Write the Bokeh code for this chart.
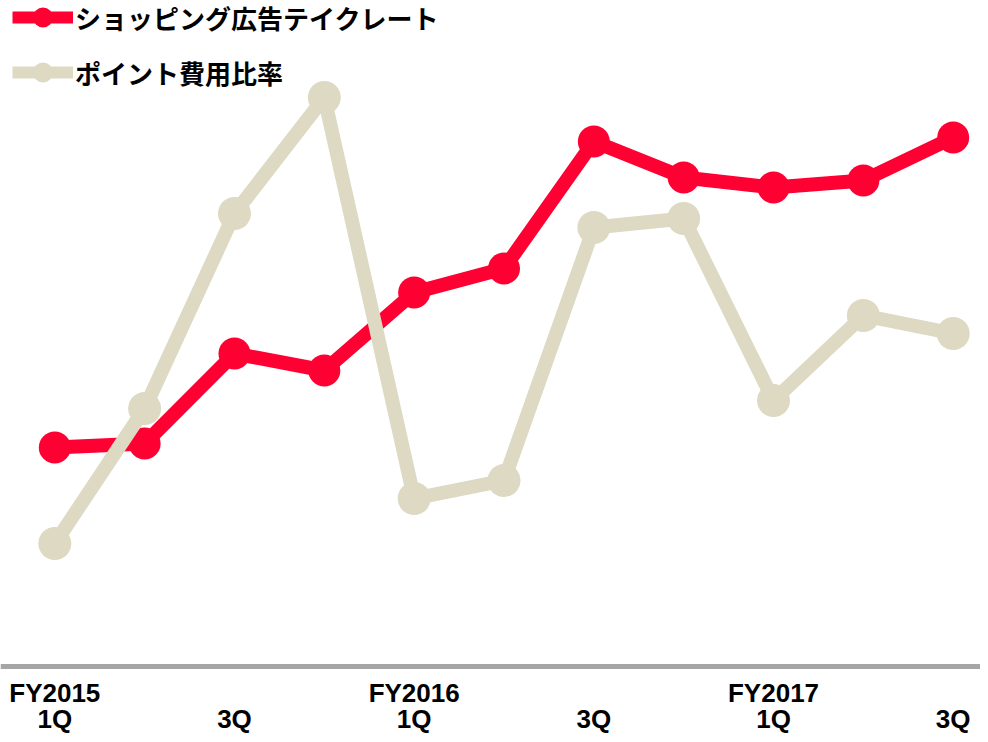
from bokeh.plotting import figure
from bokeh.models import Range1d, Span, Legend, LegendItem, ColumnDataSource
from bokeh.core.properties import value
from bokeh.embed import file_html
from bokeh.resources import INLINE

# ---- data ----
quarters = list(range(11))  # FY2015 1Q ... FY2017 3Q
ad_take_rate = [219, 223, 313, 296, 374, 398, 525, 489, 479, 486, 529]
point_cost_ratio = [123, 258, 453, 569, 168, 186, 439, 448, 266, 351, 333]
series_names = ["ショッピング広告テイクレート", "ポイント費用比率"]

q_tick_idx = [0, 2, 4, 6, 8, 10]
q_tick_labels = ["1Q", "3Q", "1Q", "3Q", "1Q", "3Q"]
fy_tick_idx = [0, 4, 8]
fy_tick_labels = ["FY2015", "FY2016", "FY2017"]

RED = "#FF0033"
BEIGE = "#DDD9C3"
GRAY = "#A6A6A6"

W, H = 980, 734
xs = 89.84
x0 = -54.3 / xs
y0 = -(H - 666)
p = figure(width=W, height=H, output_backend="svg", toolbar_location=None,
           x_range=Range1d(x0, x0 + W / xs), y_range=Range1d(y0, y0 + H),
           min_border=0, outline_line_color=None)
p.axis.visible = False
p.grid.visible = False
p.background_fill_color = "white"
p.border_fill_color = "white"

p.add_layout(Span(location=0, dimension="width", line_color=GRAY, line_width=5))

p.line(quarters, ad_take_rate, line_color=RED, line_width=14)
p.scatter(quarters, ad_take_rate, size=32, fill_color=RED, line_color=None)
p.line(quarters, point_cost_ratio, line_color=BEIGE, line_width=14)
p.scatter(quarters, point_cost_ratio, size=33, fill_color=BEIGE, line_color=None)

fy_src = ColumnDataSource(dict(x=fy_tick_idx, t=fy_tick_labels))
q_src = ColumnDataSource(dict(x=q_tick_idx, t=q_tick_labels))
p.text(x="x", y=-26, text="t", source=fy_src, text_align="center", text_baseline="alphabetic",
       text_font=value("Liberation Sans"), text_font_style="bold", text_font_size="26px", text_color="black")
p.text(x="x", y=-52, text="t", source=q_src, text_align="center", text_baseline="alphabetic",
       text_font=value("Liberation Sans"), text_font_style="bold", text_font_size="26px", text_color="black")

# legend-only renderers (placed outside the visible range)
off_x = [x0 - 5, x0 - 4]
off_y = [y0 - 100, y0 - 100]
l1 = p.line(off_x, off_y, line_color=RED, line_width=12)
m1 = p.scatter(off_x, off_y, fill_color=RED, line_color=None, size=20)
l2 = p.line(off_x, off_y, line_color=BEIGE, line_width=12)
m2 = p.scatter(off_x, off_y, fill_color=BEIGE, line_color=None, size=20)

legend = Legend(items=[LegendItem(label=series_names[0], renderers=[l1, m1]),
                       LegendItem(label=series_names[1], renderers=[l2, m2])],
                location=(12, 637), orientation="vertical",
                glyph_width=61, glyph_height=50, spacing=5, padding=0, margin=0,
                label_standoff=2, label_text_font="Noto Sans CJK JP", label_text_font_style="bold",
                label_text_font_size="26px", label_text_color="black",
                border_line_color=None, background_fill_alpha=0)
p.add_layout(legend, "center")

open("out.html", "w").write(file_html(p, INLINE))
